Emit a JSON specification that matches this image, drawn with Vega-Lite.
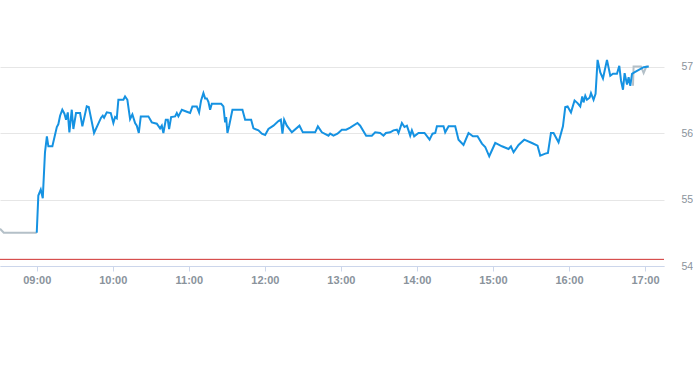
{
  "$schema": "https://vega.github.io/schema/vega-lite/v6.json",
  "width": 664,
  "height": 266,
  "autosize": {"type": "none"},
  "padding": {"left": 0, "top": 0, "right": 29, "bottom": 99},
  "background": "#ffffff",
  "config": {
    "view": {"stroke": null},
    "font": "Liberation Sans"
  },
  "datasets": {
    "extra": [
      {"t": "2024-01-02T08:31:00", "p": 54.56, "s": "pre"},
      {"t": "2024-01-02T08:34:00", "p": 54.5, "s": "pre"},
      {"t": "2024-01-02T09:00:00", "p": 54.5, "s": "pre"},
      {"t": "2024-01-02T16:50:32", "p": 56.71, "s": "post"},
      {"t": "2024-01-02T16:51:00", "p": 57.0, "s": "post"},
      {"t": "2024-01-02T16:56:51", "p": 57.0, "s": "post"},
      {"t": "2024-01-02T16:58:55", "p": 56.9, "s": "post"},
      {"t": "2024-01-02T17:01:03", "p": 57.0, "s": "post"},
      {"t": "2024-01-02T17:02:55", "p": 57.0, "s": "post"}
    ],
    "main": [
      {"t": "2024-01-02T09:00:00", "p": 54.5},
      {"t": "2024-01-02T09:01:15", "p": 55.06},
      {"t": "2024-01-02T09:03:10", "p": 55.15},
      {"t": "2024-01-02T09:04:45", "p": 55.02},
      {"t": "2024-01-02T09:06:30", "p": 55.71},
      {"t": "2024-01-02T09:08:00", "p": 55.95},
      {"t": "2024-01-02T09:09:10", "p": 55.8},
      {"t": "2024-01-02T09:12:20", "p": 55.8},
      {"t": "2024-01-02T09:15:50", "p": 56.09},
      {"t": "2024-01-02T09:17:00", "p": 56.13},
      {"t": "2024-01-02T09:18:25", "p": 56.26},
      {"t": "2024-01-02T09:20:10", "p": 56.35},
      {"t": "2024-01-02T09:21:50", "p": 56.29},
      {"t": "2024-01-02T09:23:08", "p": 56.2},
      {"t": "2024-01-02T09:24:30", "p": 56.31},
      {"t": "2024-01-02T09:25:45", "p": 56.01},
      {"t": "2024-01-02T09:27:38", "p": 56.35},
      {"t": "2024-01-02T09:28:54", "p": 56.06},
      {"t": "2024-01-02T09:31:00", "p": 56.3},
      {"t": "2024-01-02T09:34:11", "p": 56.3},
      {"t": "2024-01-02T09:36:00", "p": 56.1},
      {"t": "2024-01-02T09:39:28", "p": 56.4},
      {"t": "2024-01-02T09:41:03", "p": 56.39},
      {"t": "2024-01-02T09:45:14", "p": 56.0},
      {"t": "2024-01-02T09:50:46", "p": 56.23},
      {"t": "2024-01-02T09:52:06", "p": 56.26},
      {"t": "2024-01-02T09:53:08", "p": 56.23},
      {"t": "2024-01-02T09:55:16", "p": 56.31},
      {"t": "2024-01-02T09:58:25", "p": 56.3},
      {"t": "2024-01-02T10:00:28", "p": 56.15},
      {"t": "2024-01-02T10:01:50", "p": 56.24},
      {"t": "2024-01-02T10:03:10", "p": 56.22},
      {"t": "2024-01-02T10:04:25", "p": 56.5},
      {"t": "2024-01-02T10:08:22", "p": 56.5},
      {"t": "2024-01-02T10:09:42", "p": 56.55},
      {"t": "2024-01-02T10:11:31", "p": 56.5},
      {"t": "2024-01-02T10:13:40", "p": 56.21},
      {"t": "2024-01-02T10:15:29", "p": 56.28},
      {"t": "2024-01-02T10:17:36", "p": 56.15},
      {"t": "2024-01-02T10:18:57", "p": 56.11},
      {"t": "2024-01-02T10:20:32", "p": 56.0},
      {"t": "2024-01-02T10:22:06", "p": 56.25},
      {"t": "2024-01-02T10:28:06", "p": 56.25},
      {"t": "2024-01-02T10:30:47", "p": 56.16},
      {"t": "2024-01-02T10:34:44", "p": 56.14},
      {"t": "2024-01-02T10:37:20", "p": 56.07},
      {"t": "2024-01-02T10:38:41", "p": 56.11},
      {"t": "2024-01-02T10:39:56", "p": 56.0},
      {"t": "2024-01-02T10:41:50", "p": 56.2},
      {"t": "2024-01-02T10:43:25", "p": 56.2},
      {"t": "2024-01-02T10:44:27", "p": 56.06},
      {"t": "2024-01-02T10:46:02", "p": 56.24},
      {"t": "2024-01-02T10:49:11", "p": 56.25},
      {"t": "2024-01-02T10:50:32", "p": 56.3},
      {"t": "2024-01-02T10:51:48", "p": 56.25},
      {"t": "2024-01-02T10:54:29", "p": 56.35},
      {"t": "2024-01-02T10:58:25", "p": 56.32},
      {"t": "2024-01-02T11:01:01", "p": 56.3},
      {"t": "2024-01-02T11:02:50", "p": 56.4},
      {"t": "2024-01-02T11:06:18", "p": 56.4},
      {"t": "2024-01-02T11:08:07", "p": 56.31},
      {"t": "2024-01-02T11:09:42", "p": 56.49},
      {"t": "2024-01-02T11:11:31", "p": 56.6},
      {"t": "2024-01-02T11:12:52", "p": 56.52},
      {"t": "2024-01-02T11:14:12", "p": 56.52},
      {"t": "2024-01-02T11:15:28", "p": 56.47},
      {"t": "2024-01-02T11:16:49", "p": 56.35},
      {"t": "2024-01-02T11:18:09", "p": 56.44},
      {"t": "2024-01-02T11:25:30", "p": 56.44},
      {"t": "2024-01-02T11:27:19", "p": 56.4},
      {"t": "2024-01-02T11:28:40", "p": 56.16},
      {"t": "2024-01-02T11:29:27", "p": 56.24},
      {"t": "2024-01-02T11:30:29", "p": 56.0},
      {"t": "2024-01-02T11:31:50", "p": 56.11},
      {"t": "2024-01-02T11:34:26", "p": 56.35},
      {"t": "2024-01-02T11:42:19", "p": 56.35},
      {"t": "2024-01-02T11:44:27", "p": 56.2},
      {"t": "2024-01-02T11:49:11", "p": 56.2},
      {"t": "2024-01-02T11:51:00", "p": 56.07},
      {"t": "2024-01-02T11:54:57", "p": 56.04},
      {"t": "2024-01-02T11:57:38", "p": 55.99},
      {"t": "2024-01-02T12:00:14", "p": 55.97},
      {"t": "2024-01-02T12:02:50", "p": 56.06},
      {"t": "2024-01-02T12:06:47", "p": 56.11},
      {"t": "2024-01-02T12:10:44", "p": 56.18},
      {"t": "2024-01-02T12:12:38", "p": 56.2},
      {"t": "2024-01-02T12:13:54", "p": 55.99},
      {"t": "2024-01-02T12:15:14", "p": 56.2},
      {"t": "2024-01-02T12:17:22", "p": 56.11},
      {"t": "2024-01-02T12:21:19", "p": 56.01},
      {"t": "2024-01-02T12:27:19", "p": 56.11},
      {"t": "2024-01-02T12:30:00", "p": 56.01},
      {"t": "2024-01-02T12:39:43", "p": 56.01},
      {"t": "2024-01-02T12:41:51", "p": 56.1},
      {"t": "2024-01-02T12:45:00", "p": 56.01},
      {"t": "2024-01-02T12:50:13", "p": 55.96},
      {"t": "2024-01-02T12:51:33", "p": 55.99},
      {"t": "2024-01-02T12:54:09", "p": 55.96},
      {"t": "2024-01-02T12:57:19", "p": 55.99},
      {"t": "2024-01-02T13:00:47", "p": 56.05},
      {"t": "2024-01-02T13:04:11", "p": 56.05},
      {"t": "2024-01-02T13:07:21", "p": 56.08},
      {"t": "2024-01-02T13:13:06", "p": 56.15},
      {"t": "2024-01-02T13:15:14", "p": 56.11},
      {"t": "2024-01-02T13:19:57", "p": 55.96},
      {"t": "2024-01-02T13:24:27", "p": 55.96},
      {"t": "2024-01-02T13:27:04", "p": 56.01},
      {"t": "2024-01-02T13:31:01", "p": 56.0},
      {"t": "2024-01-02T13:33:37", "p": 55.96},
      {"t": "2024-01-02T13:35:31", "p": 56.0},
      {"t": "2024-01-02T13:38:55", "p": 56.01},
      {"t": "2024-01-02T13:41:31", "p": 56.04},
      {"t": "2024-01-02T13:44:12", "p": 56.05},
      {"t": "2024-01-02T13:45:28", "p": 56.0},
      {"t": "2024-01-02T13:48:09", "p": 56.15},
      {"t": "2024-01-02T13:50:12", "p": 56.09},
      {"t": "2024-01-02T13:52:06", "p": 56.11},
      {"t": "2024-01-02T13:53:22", "p": 56.04},
      {"t": "2024-01-02T13:54:43", "p": 55.96},
      {"t": "2024-01-02T13:56:03", "p": 56.04},
      {"t": "2024-01-02T13:57:52", "p": 55.95},
      {"t": "2024-01-02T14:01:16", "p": 56.0},
      {"t": "2024-01-02T14:06:00", "p": 56.0},
      {"t": "2024-01-02T14:10:00", "p": 55.9},
      {"t": "2024-01-02T14:12:20", "p": 55.99},
      {"t": "2024-01-02T14:14:30", "p": 56.0},
      {"t": "2024-01-02T14:15:47", "p": 56.1},
      {"t": "2024-01-02T14:21:00", "p": 56.1},
      {"t": "2024-01-02T14:22:20", "p": 56.01},
      {"t": "2024-01-02T14:25:00", "p": 56.1},
      {"t": "2024-01-02T14:30:14", "p": 56.1},
      {"t": "2024-01-02T14:32:50", "p": 55.9},
      {"t": "2024-01-02T14:36:47", "p": 55.82},
      {"t": "2024-01-02T14:40:44", "p": 56.0},
      {"t": "2024-01-02T14:44:12", "p": 55.95},
      {"t": "2024-01-02T14:47:50", "p": 55.95},
      {"t": "2024-01-02T14:51:19", "p": 55.84},
      {"t": "2024-01-02T14:53:55", "p": 55.79},
      {"t": "2024-01-02T14:57:05", "p": 55.65},
      {"t": "2024-01-02T15:01:49", "p": 55.85},
      {"t": "2024-01-02T15:07:07", "p": 55.8},
      {"t": "2024-01-02T15:12:19", "p": 55.76},
      {"t": "2024-01-02T15:14:13", "p": 55.8},
      {"t": "2024-01-02T15:16:17", "p": 55.71},
      {"t": "2024-01-02T15:20:13", "p": 55.82},
      {"t": "2024-01-02T15:24:43", "p": 55.9},
      {"t": "2024-01-02T15:30:47", "p": 55.85},
      {"t": "2024-01-02T15:35:13", "p": 55.81},
      {"t": "2024-01-02T15:37:20", "p": 55.66},
      {"t": "2024-01-02T15:41:17", "p": 55.69},
      {"t": "2024-01-02T15:43:25", "p": 55.7},
      {"t": "2024-01-02T15:45:47", "p": 56.0},
      {"t": "2024-01-02T15:47:50", "p": 56.0},
      {"t": "2024-01-02T15:51:47", "p": 55.86},
      {"t": "2024-01-02T15:55:15", "p": 56.1},
      {"t": "2024-01-02T15:57:05", "p": 56.39},
      {"t": "2024-01-02T15:58:55", "p": 56.4},
      {"t": "2024-01-02T16:01:35", "p": 56.31},
      {"t": "2024-01-02T16:04:25", "p": 56.49},
      {"t": "2024-01-02T16:06:47", "p": 56.45},
      {"t": "2024-01-02T16:08:55", "p": 56.4},
      {"t": "2024-01-02T16:10:29", "p": 56.55},
      {"t": "2024-01-02T16:11:31", "p": 56.46},
      {"t": "2024-01-02T16:12:52", "p": 56.56},
      {"t": "2024-01-02T16:14:12", "p": 56.5},
      {"t": "2024-01-02T16:16:17", "p": 56.53},
      {"t": "2024-01-02T16:17:23", "p": 56.6},
      {"t": "2024-01-02T16:19:25", "p": 56.5},
      {"t": "2024-01-02T16:21:00", "p": 56.59},
      {"t": "2024-01-02T16:22:35", "p": 57.1},
      {"t": "2024-01-02T16:24:43", "p": 56.91},
      {"t": "2024-01-02T16:26:50", "p": 56.82},
      {"t": "2024-01-02T16:30:00", "p": 57.1},
      {"t": "2024-01-02T16:32:36", "p": 56.86},
      {"t": "2024-01-02T16:34:44", "p": 56.89},
      {"t": "2024-01-02T16:37:53", "p": 56.89},
      {"t": "2024-01-02T16:39:43", "p": 57.01},
      {"t": "2024-01-02T16:41:04", "p": 56.79},
      {"t": "2024-01-02T16:42:38", "p": 56.65},
      {"t": "2024-01-02T16:43:55", "p": 56.9},
      {"t": "2024-01-02T16:45:49", "p": 56.73},
      {"t": "2024-01-02T16:47:05", "p": 56.84},
      {"t": "2024-01-02T16:48:25", "p": 56.71},
      {"t": "2024-01-02T16:49:45", "p": 56.89},
      {"t": "2024-01-02T16:51:35", "p": 56.91},
      {"t": "2024-01-02T16:58:55", "p": 56.99},
      {"t": "2024-01-02T17:02:55", "p": 57.0}
    ],
    "ref": [{"p": 54.1}]
  },
  "layer": [
    {
      "data": {"name": "extra"},
      "mark": {"type": "line", "color": "#b4c0c8", "strokeWidth": 2},
      "encoding": {
        "x": {
          "field": "t",
          "type": "temporal",
          "title": null,
          "scale": {
            "domain": ["2024-01-02T08:31:00", "2024-01-02T17:15:00"]
          },
          "axis": {
            "format": "%H:%M",
            "tickCount": 9,
            "grid": false,
            "domainColor": "#ccd6eb",
            "tickColor": "#ccd6eb",
            "tickSize": 5,
            "labelPadding": 3,
            "labelColor": "#8a939c",
            "labelFontSize": 11,
            "labelFontWeight": "bold"
          }
        },
        "y": {
          "field": "p",
          "type": "quantitative",
          "title": null,
          "scale": {"domain": [54, 58], "nice": false, "zero": false},
          "axis": {
            "orient": "right",
            "values": [54, 55, 56, 57],
            "format": "d",
            "domain": false,
            "ticks": false,
            "tickSize": 0,
            "labelPadding": 17,
            "gridColor": "#e6e6e6",
            "labelColor": "#8a939c",
            "labelFontSize": 10.5
          }
        },
        "detail": {"field": "s", "type": "nominal"}
      }
    },
    {
      "data": {"name": "main"},
      "mark": {"type": "line", "color": "#1592e2", "strokeWidth": 2},
      "encoding": {
        "x": {"field": "t", "type": "temporal"},
        "y": {"field": "p", "type": "quantitative"}
      }
    },
    {
      "data": {"name": "ref"},
      "mark": {"type": "rule", "color": "#d0302f", "strokeWidth": 1},
      "encoding": {"y": {"field": "p", "type": "quantitative"}}
    }
  ]
}
